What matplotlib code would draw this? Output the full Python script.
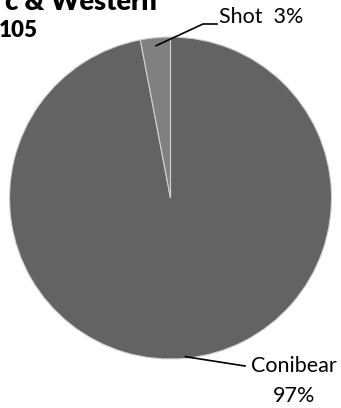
import matplotlib
matplotlib.use("Agg")
import matplotlib.pyplot as plt
import numpy as np

# valores
categorias = ["Conibear", "Shot"]
percentuais = [97, 3]
cores = ["#636363", "#808080"]

W, H = 341, 408
fig = plt.figure(figsize=(W / 100, H / 100), dpi=100)
fig.patch.set_facecolor("white")

# pizza: centro (170.5, 198) px, raio 161 px
cx, cy, r = 170.5, 198, 161
ax = fig.add_axes([(cx - r) / W, (H - cy - r) / H, 2 * r / W, 2 * r / H])
fatias, _ = ax.pie(percentuais, colors=cores, startangle=90, counterclock=False,
                   wedgeprops={"edgecolor": "#d0d0d0", "linewidth": 0.8})
ax.set_xlim(-1, 1)
ax.set_ylim(-1, 1)
ax.set_aspect("equal")
ax.axis("off")


def px(x, y):
    return (x - cx) / r, (cy - y) / r


def meio(fatia, raio):
    ang = np.deg2rad((fatia.theta1 + fatia.theta2) / 2)
    return raio * np.cos(ang), raio * np.sin(ang)


FONTE = "Lato"
TAM = 15.5
linha = {"color": "black", "linewidth": 1.2, "clip_on": False}

# Shot
x0, y0 = meio(fatias[1], 0.95)
xs, ys = zip((x0, y0), px(203, 24), px(217, 24))
ax.plot(xs, ys, **linha)
tx, ty = px(219, 17)
ax.text(tx, ty, f"{categorias[1]}  {percentuais[1]}%", ha="left", va="center",
        fontsize=TAM, family=FONTE, color="black")

# Conibear
x0, y0 = meio(fatias[0], 0.99)
xs, ys = zip((x0, y0), px(245, 366))
ax.plot(xs, ys, **linha)
tx, ty = px(294, 366)
ax.text(tx, ty, categorias[0], ha="center", va="center",
        fontsize=TAM, family=FONTE, color="black")
tx, ty = px(294, 396)
ax.text(tx, ty, f"{percentuais[0]}%", ha="center", va="center",
        fontsize=TAM, family=FONTE, color="black")

# título (cortado no recorte original)
fig.text(157 / W, 1 - 10 / H, "c & Western", ha="right", va="baseline",
         fontsize=19.5, fontweight="heavy", family=FONTE)
fig.text(-1 / W, 1 - 37 / H, "105", ha="left", va="baseline",
         fontsize=16, fontweight="heavy", family=FONTE)

fig.savefig("out.png", dpi=100, facecolor="white")
